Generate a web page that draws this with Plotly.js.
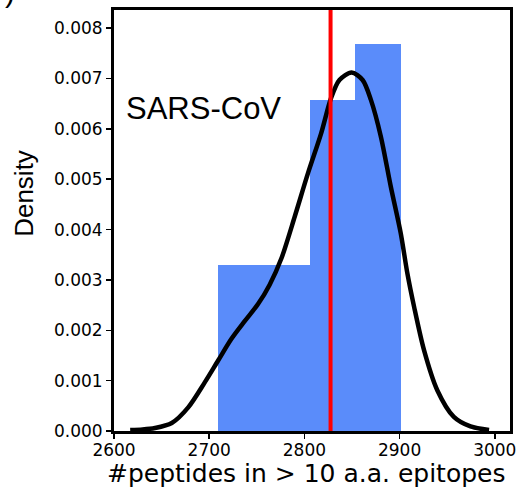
<!DOCTYPE html>
<html>
<head>
<meta charset="utf-8">
<script src="https://cdn.plot.ly/plotly-3.0.1.min.js"></script>
<style>
  html, body { margin: 0; padding: 0; background: #fff; }
  #chart { width: 520px; height: 487px; }
</style>
</head>
<body>
<div id="chart"></div>
<script>
// Histogram of peptide counts (density-normalised, bin width 48)
const binEdges = [2709.4, 2757.4, 2805.4, 2853.4, 2901.4];
const binDensity = [0.00329, 0.00329, 0.00658, 0.00768];

// Kernel density estimate of the same sample
const kdeX = [2617, 2630, 2643, 2660.7, 2678, 2695.5, 2709.4, 2723.4, 2737.3, 2751.3,
              2763.4, 2775.9, 2789.9, 2803.8, 2817.6, 2828, 2836.8, 2849.6, 2861.2, 2869.8,
              2880.3, 2890.8, 2901.2, 2908.2, 2915.2, 2925.6, 2939.6, 2957, 2974.5, 2994];
const kdeY = [0.00002, 0.00003, 0.00006, 0.00016, 0.00047, 0.00097, 0.00140, 0.00183, 0.00218, 0.00252,
              0.00290, 0.00343, 0.00426, 0.00512, 0.00591, 0.00661, 0.00697, 0.00712, 0.00697, 0.00658,
              0.00585, 0.00485, 0.00393, 0.00313, 0.00247, 0.00161, 0.00081, 0.00028, 0.00009, 0.00002];

// Reference value marked by the red vertical line
const markerValue = [2827.5];

const yTicks = [0, 0.001, 0.002, 0.003, 0.004, 0.005, 0.006, 0.007, 0.008];
const xTicks = [2600, 2700, 2800, 2900, 3000];

const centers = binDensity.map((_, i) => (binEdges[i] + binEdges[i + 1]) / 2);
const widths = binDensity.map((_, i) => binEdges[i + 1] - binEdges[i]);

const traces = [
  {
    type: 'bar',
    x: centers,
    y: binDensity,
    width: widths,
    marker: { color: 'rgba(49,111,249,0.8)', line: { width: 0 } },
    hoverinfo: 'skip'
  },
  {
    type: 'scatter',
    mode: 'lines',
    x: kdeX,
    y: kdeY,
    line: { color: '#000', width: 4.5, shape: 'spline', smoothing: 0.8 },
    hoverinfo: 'skip'
  }
];

const verdanaLike = '"DejaVu Sans", Verdana, sans-serif';
const arialLike = '"Liberation Sans", Arial, sans-serif';
const tickFont = { family: verdanaLike, size: 17, color: '#000' };

const layout = {
  width: 520,
  height: 487,
  margin: { l: 114, r: 10, t: 10, b: 56 },
  paper_bgcolor: '#fff',
  plot_bgcolor: '#fff',
  showlegend: false,
  bargap: 0,
  xaxis: {
    range: [2600, 3016],
    tickvals: xTicks,
    ticktext: xTicks.map(String),
    ticks: 'outside',
    ticklen: 5,
    tickwidth: 1.5,
    tickcolor: '#000',
    tickfont: tickFont,
    ticklabelstandoff: -3,
    showgrid: false,
    zeroline: false,
    showline: true,
    linecolor: '#000',
    linewidth: 3,
    mirror: true,
    layer: 'below traces'
  },
  yaxis: {
    range: [0, 0.00836],
    tickvals: yTicks,
    ticktext: yTicks.map(v => v.toFixed(3)),
    ticks: 'outside',
    ticklen: 5,
    tickwidth: 1.5,
    tickcolor: '#000',
    tickfont: tickFont,
    showgrid: false,
    zeroline: false,
    showline: true,
    linecolor: '#000',
    linewidth: 3,
    mirror: true,
    layer: 'below traces'
  },
  shapes: markerValue.map(v => ({
    type: 'line',
    xref: 'x',
    yref: 'paper',
    x0: v, x1: v,
    y0: 0, y1: 1,
    line: { color: '#ff0000', width: 4 }
  })),
  annotations: [
    {
      text: '#peptides in > 10 a.a. epitopes',
      xref: 'paper', yref: 'paper',
      x: 0.485, y: -0.062,
      xanchor: 'center', yanchor: 'top',
      showarrow: false,
      font: { family: verdanaLike, size: 25, color: '#000' }
    },
    {
      text: 'Density',
      xref: 'paper', yref: 'paper',
      x: -0.228, y: 0.565,
      xanchor: 'center', yanchor: 'middle',
      textangle: -90,
      showarrow: false,
      font: { family: arialLike, size: 26, color: '#000' }
    },
    {
      text: 'SARS-CoV',
      xref: 'paper', yref: 'paper',
      x: 0.026, y: 0.767,
      xanchor: 'left', yanchor: 'middle',
      showarrow: false,
      font: { family: arialLike, size: 31, color: '#000' }
    },
    {
      text: ')',
      xref: 'paper', yref: 'paper',
      x: -0.262, y: 1.0,
      xanchor: 'center', yanchor: 'bottom',
      showarrow: false,
      font: { family: arialLike, size: 30, color: '#000' }
    }
  ]
};

Plotly.newPlot('chart', traces, layout, { displayModeBar: false, staticPlot: true });
</script>
</body>
</html>
